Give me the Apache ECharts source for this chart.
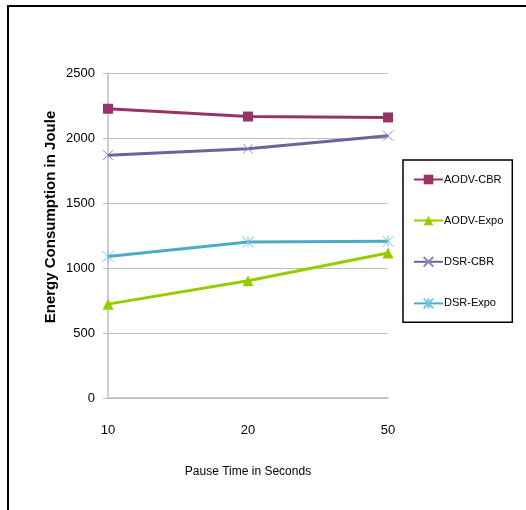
<!DOCTYPE html>
<html>
<head>
<meta charset="utf-8">
<script src="https://cdn.jsdelivr.net/npm/echarts@6/dist/echarts.min.js"></script>
<style>
  html, body { margin: 0; padding: 0; background: #fff; }
  #chart { width: 526px; height: 510px; }
</style>
</head>
<body>
<div id="chart"></div>
<script>
// Pause times (x categories)
const pauseTimes = ['10', '20', '50'];

// Energy consumption (Joule) per protocol / traffic type
const aodvCbr  = [2225, 2165, 2158];
const aodvExpo = [722, 902, 1115];
const dsrCbr   = [1868, 1918, 2018];
const dsrExpo  = [1088, 1200, 1205];

const seriesNames = ['AODV-CBR', 'AODV-Expo', 'DSR-CBR', 'DSR-Expo'];

const yTitle = 'Energy Consumption in Joule';
const xTitle = 'Pause Time in Seconds';

const FONT = '"Liberation Sans", Arial, sans-serif';

const crossPath = 'path://M0,0L10,10M10,0L0,10';
const starPath = 'path://M0,0L10,10M10,0L0,10M5,0L5,10';

function lineSeries(name, data, color, symbol, size, markerStroke) {
  const s = {
    name: name,
    type: 'line',
    data: data,
    symbol: symbol,
    symbolSize: size,
    showAllSymbol: true,
    lineStyle: { color: color, width: 3 },
    itemStyle: { color: color },
    emphasis: { disabled: true }
  };
  if (markerStroke) {
    // stroke-only markers (cross / asterisk)
    s.itemStyle = { color: 'rgba(0,0,0,0)', borderColor: markerStroke, borderWidth: 1 };
  }
  return s;
}

const chart = echarts.init(document.getElementById('chart'), null, { renderer: 'canvas' });
chart.setOption({
  animation: false,
  backgroundColor: '#ffffff',
  textStyle: { fontFamily: FONT },
  graphic: [
    { type: 'line', shape: { x1: 7, y1: 6, x2: 526, y2: 6 }, style: { stroke: '#000', lineWidth: 2 } },
    { type: 'line', shape: { x1: 8, y1: 5, x2: 8, y2: 510 }, style: { stroke: '#000', lineWidth: 2 } },
    {
      type: 'text',
      x: 51, y: 217,
      rotation: Math.PI / 2,
      style: {
        text: yTitle,
        fontFamily: FONT, fontSize: 15, fontWeight: 'bold', fill: '#000',
        align: 'center', verticalAlign: 'middle'
      }
    }
  ],
  grid: { left: 108, top: 73, right: 138, bottom: 112 },
  legend: {
    orient: 'vertical',
    left: 403,
    top: 160,
    padding: [14, 9, 13, 10],
    itemGap: 30,
    itemWidth: 29,
    itemHeight: 12,
    borderColor: '#000',
    borderWidth: 1.5,
    textStyle: { fontFamily: FONT, fontSize: 11, color: '#000', padding: [0, 0, 0, -4] },
    data: seriesNames
  },
  xAxis: {
    type: 'category',
    data: pauseTimes,
    boundaryGap: false,
    name: xTitle,
    nameLocation: 'middle',
    nameGap: 68,
    nameTextStyle: { fontFamily: FONT, fontSize: 12, color: '#000' },
    axisLine: { lineStyle: { color: '#bfbfbf', width: 1.5 } },
    axisTick: { show: false },
    axisLabel: { margin: 26, fontFamily: FONT, fontSize: 13, color: '#000' },
    splitLine: { show: false }
  },
  yAxis: {
    type: 'value',
    min: 0,
    max: 2500,
    interval: 500,
    axisLine: { show: true, lineStyle: { color: '#bfbfbf', width: 1.5 } },
    axisTick: { show: true, length: 5, lineStyle: { color: '#bfbfbf' } },
    axisLabel: { margin: 13, fontFamily: FONT, fontSize: 13, color: '#000', formatter: v => String(v) },
    splitLine: { lineStyle: { color: '#bfbfbf', width: 1 } }
  },
  series: [
    lineSeries('AODV-CBR', aodvCbr, '#993366', 'rect', 10, null),
    lineSeries('AODV-Expo', aodvExpo, '#99cc00', 'triangle', 11, null),
    lineSeries('DSR-CBR', dsrCbr, '#666699', crossPath, 10, '#8585b8'),
    lineSeries('DSR-Expo', dsrExpo, '#4bacc6', starPath, 11, '#70c8e0')
  ]
});
</script>
</body>
</html>
